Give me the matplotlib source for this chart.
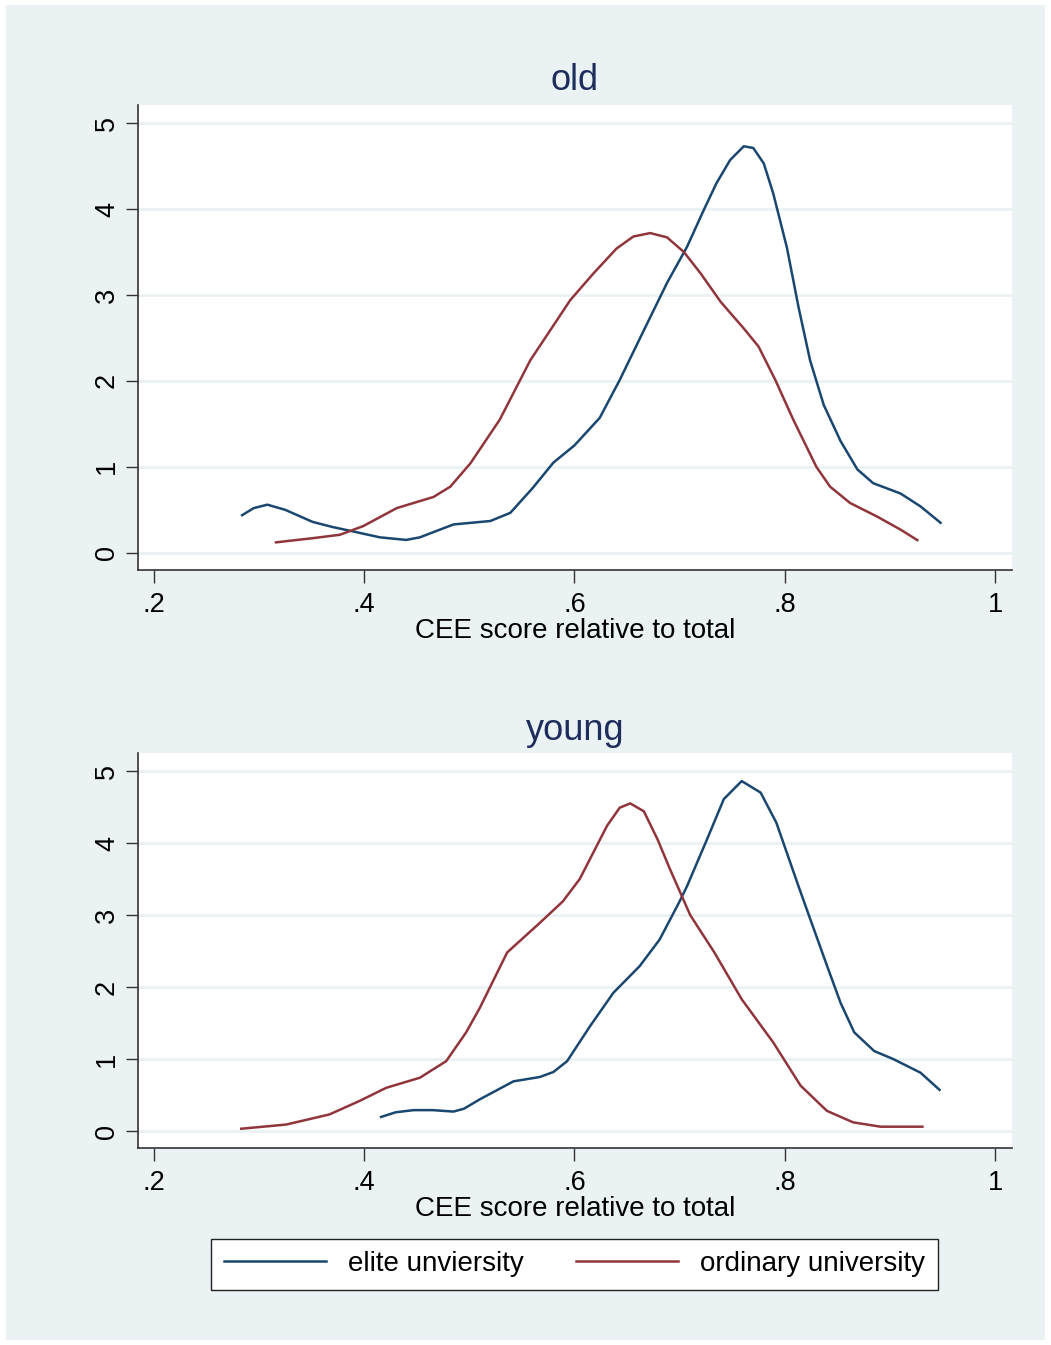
import matplotlib
matplotlib.use("Agg")
import matplotlib.pyplot as plt
from matplotlib.patches import Rectangle
from matplotlib.lines import Line2D

# ---- data ----
old_elite_x = [0.283, 0.295, 0.308, 0.325, 0.351, 0.370, 0.389, 0.415, 0.440, 0.453, 0.470, 0.485,
               0.520, 0.539, 0.560, 0.580, 0.600, 0.624, 0.643, 0.666, 0.688, 0.707, 0.723, 0.735,
               0.748, 0.761, 0.770, 0.780, 0.789, 0.802, 0.813, 0.824, 0.837, 0.853, 0.869, 0.884,
               0.910, 0.929, 0.949]
old_elite_y = [0.43, 0.52, 0.56, 0.50, 0.36, 0.30, 0.25, 0.18, 0.15, 0.18, 0.26, 0.33,
               0.37, 0.465, 0.75, 1.05, 1.25, 1.57, 2.01, 2.59, 3.14, 3.56, 3.99, 4.30,
               4.57, 4.73, 4.71, 4.53, 4.18, 3.55, 2.86, 2.24, 1.72, 1.30, 0.97, 0.81,
               0.69, 0.54, 0.34]

old_ord_x = [0.315, 0.351, 0.377, 0.399, 0.431, 0.466, 0.482, 0.501, 0.529, 0.558, 0.577, 0.596,
             0.618, 0.640, 0.656, 0.672, 0.688, 0.704, 0.720, 0.739, 0.761, 0.775, 0.791, 0.808,
             0.830, 0.843, 0.862, 0.888, 0.910, 0.927]
old_ord_y = [0.12, 0.17, 0.21, 0.31, 0.52, 0.65, 0.77, 1.04, 1.55, 2.24, 2.59, 2.94,
             3.25, 3.54, 3.68, 3.72, 3.67, 3.50, 3.25, 2.92, 2.61, 2.40, 2.01, 1.55,
             1.00, 0.77, 0.58, 0.42, 0.27, 0.14]

young_elite_x = [0.415, 0.430, 0.447, 0.465, 0.485, 0.495, 0.510, 0.542, 0.567, 0.580, 0.593, 0.615,
                 0.637, 0.662, 0.681, 0.700, 0.707, 0.726, 0.742, 0.759, 0.777, 0.792, 0.813, 0.824,
                 0.840, 0.853, 0.866, 0.885, 0.903, 0.929, 0.948]
young_elite_y = [0.19, 0.26, 0.29, 0.29, 0.27, 0.31, 0.44, 0.69, 0.75, 0.82, 0.97, 1.46,
                 1.92, 2.29, 2.66, 3.19, 3.40, 4.05, 4.61, 4.86, 4.70, 4.28, 3.40, 2.95,
                 2.30, 1.78, 1.37, 1.11, 1.00, 0.81, 0.56]

young_ord_x = [0.282, 0.326, 0.367, 0.396, 0.421, 0.453, 0.478, 0.497, 0.510, 0.536, 0.567, 0.589,
               0.605, 0.631, 0.643, 0.653, 0.666, 0.679, 0.691, 0.710, 0.733, 0.759, 0.789, 0.815,
               0.840, 0.865, 0.891, 0.932]
young_ord_y = [0.03, 0.09, 0.23, 0.42, 0.60, 0.74, 0.97, 1.37, 1.71, 2.48, 2.89, 3.19,
               3.50, 4.24, 4.49, 4.55, 4.44, 4.05, 3.63, 3.00, 2.48, 1.83, 1.23, 0.63,
               0.28, 0.12, 0.06, 0.06]

panels = ["old", "young"]
series_names = ["elite unviersity", "ordinary university"]
x_ticks = [0.2, 0.4, 0.6, 0.8, 1.0]
x_tick_labels = [".2", ".4", ".6", ".8", "1"]
y_ticks = [0, 1, 2, 3, 4, 5]
x_label = "CEE score relative to total"

BLUE = "#1A476F"
RED = "#90353B"
BG = "#EAF2F3"
TITLE_C = "#1E2D5C"
AXC = "#333333"

plt.rcParams['font.family'] = ['Liberation Sans', 'DejaVu Sans']

W, H = 1051, 1345
fig = plt.figure(figsize=(W / 100, H / 100), dpi=100, facecolor="white")
fig.patches.append(Rectangle((6 / W, 1 - 1340 / H), (1045 - 6) / W, (1340 - 5) / H,
                             transform=fig.transFigure, facecolor=BG, edgecolor="none", zorder=0))

def px_axes(x0, y0, x1, y1):
    return fig.add_axes([x0 / W, 1 - y1 / H, (x1 - x0) / W, (y1 - y0) / H])

data = [
    (old_elite_x, old_elite_y, old_ord_x, old_ord_y),
    (young_elite_x, young_elite_y, young_ord_x, young_ord_y),
]
boxes = [(138, 105, 1012, 570), (138, 753, 1012, 1148)]
ylims = [(-0.2, 5.21), (-0.236, 5.25)]
title_y = [81, 730]
xlabel_y = [631, 1209]

for name, (ex, ey, ox, oy), box, yl, ty, ly in zip(panels, data, boxes, ylims, title_y, xlabel_y):
    ax = px_axes(*box)
    ax.set_facecolor("white")
    ax.set_zorder(1)
    ax.plot(ex, ey, color=BLUE, lw=1.8, solid_joinstyle="round", solid_capstyle="butt")
    ax.plot(ox, oy, color=RED, lw=1.8, solid_joinstyle="round", solid_capstyle="butt")
    ax.set_xlim(0.185, 1.016)
    ax.set_ylim(*yl)
    ax.set_xticks(x_ticks)
    ax.set_xticklabels(x_tick_labels)
    ax.set_yticks(y_ticks)
    ax.set_yticklabels([str(v) for v in y_ticks], rotation=90, va="center")
    ax.grid(axis="y", color=BG, lw=2)
    ax.set_axisbelow(True)
    for s in ["top", "right"]:
        ax.spines[s].set_visible(False)
    for s in ["left", "bottom"]:
        ax.spines[s].set_color(AXC)
        ax.spines[s].set_linewidth(1.2)
    ax.tick_params(axis="both", direction="out", length=9, width=1, color=AXC,
                   labelsize=19.5)
    ax.tick_params(axis="x", pad=7)
    ax.tick_params(axis="y", pad=4)
    ax.set_xlabel(x_label, fontsize=20, va="center")
    h = box[3] - box[1]
    ax.xaxis.set_label_coords(0.5, -(ly - box[3]) / h)
    fig.text(((box[0] + box[2]) / 2) / W, 1 - ty / H, name, fontsize=26, color=TITLE_C,
             ha="center", va="center")

handles = [Line2D([], [], color=BLUE, lw=1.8), Line2D([], [], color=RED, lw=1.8)]
leg = fig.legend(handles, series_names, loc="center", bbox_to_anchor=(574.5 / W, 1 - 1264 / H),
                 ncol=2, fontsize=20, frameon=True, fancybox=False, edgecolor="#222222",
                 framealpha=1, handlelength=3.67, handletextpad=0.8, columnspacing=1.9,
                 borderpad=0.45, borderaxespad=0)
leg.get_frame().set_linewidth(1.0)

fig.savefig("out.png", dpi=100, facecolor="white")
